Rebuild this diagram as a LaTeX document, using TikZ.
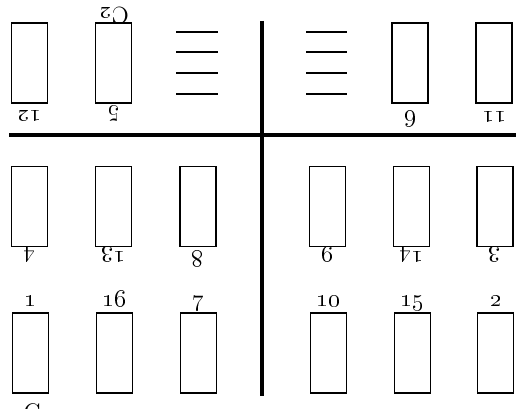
\documentclass[tikz,border=0pt]{standalone}
\usepackage{graphicx}
\newcommand{\osn}[1]{\scalebox{1.5}{\oldstylenums{#1}}}
\newcommand{\bigtxt}[1]{\scalebox{1.5}{#1}}
\begin{document}
\begin{tikzpicture}[x=0.75pt,y=-0.75pt,
  cell/.style={draw, line width=1.1pt, minimum width=27pt, minimum height=60pt, inner sep=0pt},
  lab/.style={anchor=base, inner sep=0pt, font=\fontsize{12}{14}\selectfont},
  rlab/.style={lab, rotate=180},
  mainline/.style={line width=2.3pt},
  dashline/.style={line width=1pt}]
\useasboundingbox (0,0) rectangle (521,409);
% main cross
\coordinate (hl) at (9,135);
\coordinate (hr) at (516,135);
\coordinate (vt) at (262,21);
\coordinate (vb) at (262,396);
\draw[mainline] (hl) -- (hr);
\draw[mainline] (vt) -- (vb);
% top row
\node[cell] (t1) at (29.5,63) {};
\node[cell] (t2) at (113.5,63) {};
\node[cell] (t3) at (410,63) {};
\node[cell] (t4) at (494,63) {};
\node[rlab] (lt1) at (29.5,111) {\osn{12}};
\node[rlab] (lt2) at (113.5,111) {\osn{5}};
\node[rlab] (lc2) at (114.5,8) {\bigtxt{C\oldstylenums{2}}};
\node[rlab] (lt3) at (411,112) {\osn{6}};
\node[rlab] (lt4) at (495,112) {\osn{11}};
% dashes
\foreach \y [count=\i] in {32,52,73,94} {
  \coordinate (dla\i) at (176,\y); \coordinate (dlb\i) at (218,\y);
  \coordinate (dra\i) at (306,\y); \coordinate (drb\i) at (347,\y);
  \draw[dashline] (dla\i) -- (dlb\i);
  \draw[dashline] (dra\i) -- (drb\i);
}
% middle row
\node[cell] (m1) at (29.5,206.5) {};
\node[cell] (m2) at (113.5,206.5) {};
\node[cell] (m3) at (198,206.5) {};
\node[cell] (m4) at (327.5,206.5) {};
\node[cell] (m5) at (411.5,206.5) {};
\node[cell] (m6) at (495,206.5) {};
\node[rlab] (lm1) at (29.5,252) {\osn{4}};
\node[rlab] (lm2) at (113.5,252) {\osn{13}};
\node[rlab] (lm3) at (198,252) {\osn{8}};
\node[rlab] (lm4) at (327.5,252) {\osn{9}};
\node[rlab] (lm5) at (411.5,252) {\osn{14}};
\node[rlab] (lm6) at (495,252) {\osn{3}};
% bottom row
\node[cell] (b1) at (30.5,353) {};
\node[cell] (b2) at (114.5,353) {};
\node[cell] (b3) at (198.5,353) {};
\node[cell] (b4) at (328.5,353) {};
\node[cell] (b5) at (412.5,353) {};
\node[cell] (b6) at (495.5,353) {};
\node[lab] (lb1) at (30.5,307) {\osn{1}};
\node[lab] (lb2) at (114.5,307) {\osn{16}};
\node[lab] (lb3) at (198.5,307) {\osn{7}};
\node[lab] (lb4) at (328.5,307) {\osn{10}};
\node[lab] (lb5) at (412.5,307) {\osn{15}};
\node[lab] (lb6) at (496.5,307) {\osn{2}};
\node[lab, anchor=north] (lc1) at (32,403) {\bigtxt{C}};
\end{tikzpicture}
\end{document}
